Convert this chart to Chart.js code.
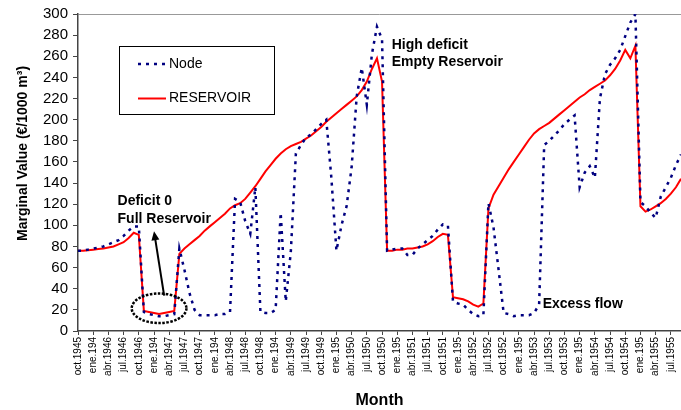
<!DOCTYPE html>
<html>
<head>
<meta charset="utf-8">
<script src="https://cdn.jsdelivr.net/npm/chart.js@4.4.1/dist/chart.umd.min.js"></script>
<style>
  body { margin: 0; background: #fff; }
  canvas { display: block; }
</style>
</head>
<body>
<canvas id="chart" width="681" height="410"></canvas>
<script>
// labels shown under the axis, one every 3 months (Excel cut the "ene" ones short)
var tickLabels = ['oct.1945', 'ene.194', 'abr.1946', 'jul.1946', 'oct.1946', 'ene.194', 'abr.1947', 'jul.1947',
  'oct.1947', 'ene.194', 'abr.1948', 'jul.1948', 'oct.1948', 'ene.194', 'abr.1949', 'jul.1949',
  'oct.1949', 'ene.195', 'abr.1950', 'jul.1950', 'oct.1950', 'ene.195', 'abr.1951', 'jul.1951',
  'oct.1951', 'ene.195', 'abr.1952', 'jul.1952', 'oct.1952', 'ene.195', 'abr.1953', 'jul.1953',
  'oct.1953', 'ene.195', 'abr.1954', 'jul.1954', 'oct.1954', 'ene.195', 'abr.1955', 'jul.1955'];

var monthNames = ['oct', 'nov', 'dic', 'ene', 'feb', 'mar', 'abr', 'may', 'jun', 'jul', 'ago', 'sep'];

// monthly categories oct 1945 .. sep 1955
var months = [];
for (var yr = 1945; yr < 1955; yr++) {
  for (var m = 0; m < 12; m++) {
    months.push(monthNames[m] + '.' + (m < 3 ? yr : yr + 1));
  }
}

var nodeValues = [
  76, 76, 77, 78, 79, 80, 82, 84, 86, 90,
  95, 99, 99, 18, 16, 15, 14, 14, 15, 16,
  78, 58, 36, 20, 15, 15, 15, 15, 16, 16,
  18, 125, 122, 104, 92, 136, 18, 17, 17, 20,
  112, 28, 75, 168, 176, 183, 186, 191, 196, 200,
  145, 76, 100, 118, 155, 222, 249, 214, 262, 288,
  276, 76, 77, 78, 78, 72, 72, 78, 82, 86,
  90, 96, 101, 100, 28, 26, 25, 20, 16, 14,
  15, 121, 98, 58, 17, 16, 14, 15, 15, 15,
  17, 25, 176, 180, 185, 190, 196, 200, 204, 136,
  150, 156, 145, 220, 243, 252, 258, 266, 279, 292,
  300, 122, 118, 112, 107, 127, 136, 145, 157, 167
];

var reservoirValues = [
  76, 76, 76.5, 77, 77.5, 78, 79, 80, 82, 84,
  88, 93, 91, 19, 18, 17, 16, 17, 18, 19,
  73, 78, 82, 86, 90, 95, 99, 103, 107, 111,
  116, 119, 121, 125, 131, 137, 144, 151, 157, 163,
  168, 172, 175, 177, 179, 182, 185, 189, 193, 198,
  202, 206, 210, 214, 218, 222, 228, 236, 248, 258,
  236, 76, 76, 77, 77, 78, 78, 79, 80, 82,
  85, 89, 92, 91, 32, 31, 30, 28, 25, 23,
  26, 116, 129, 137, 145, 153, 160, 167, 174, 181,
  187, 191, 194, 197, 201, 205, 209, 213, 217, 221,
  224, 228, 231, 234, 237, 242, 248, 256, 266, 258,
  270, 118, 113, 115, 118, 121, 125, 130, 136, 144
];

var fontFamily = "'Liberation Sans', Arial, sans-serif";
var yTitle = 'Marginal Value (€/1000 m³)';

// annotations in data units (month index, value)
var texts = [
  { text: 'Deficit 0', x: 7.8, y: 123 },
  { text: 'Full Reservoir', x: 7.8, y: 106 },
  { text: 'High deficit', x: 61.9, y: 270.5 },
  { text: 'Empty Reservoir', x: 61.9, y: 254 },
  { text: 'Excess flow', x: 91.7, y: 25 }
];
var circle = { x: 16, y: 21.5, rx: 5.4, ry: 14 };
var arrow = { from: [17, 33.5], to: [15, 94.5] };

var notesPlugin = {
  id: 'notes',
  afterDatasetsDraw: function(chart) {
    var ctx = chart.ctx;
    var xs = chart.scales.x, ys = chart.scales.y;
    ctx.save();

    // dotted ellipse round the full-reservoir months
    var cx = xs.getPixelForValue(circle.x), cy = ys.getPixelForValue(circle.y);
    var rx = xs.getPixelForValue(circle.x + circle.rx) - cx;
    var ry = cy - ys.getPixelForValue(circle.y + circle.ry);
    ctx.beginPath();
    ctx.setLineDash([2.5, 1.5]);
    ctx.lineWidth = 2.5;
    ctx.strokeStyle = '#000';
    ctx.ellipse(cx, cy, rx, ry, 0, 0, Math.PI * 2);
    ctx.stroke();
    ctx.setLineDash([]);

    // arrow
    var x1 = xs.getPixelForValue(arrow.from[0]), y1 = ys.getPixelForValue(arrow.from[1]);
    var x2 = xs.getPixelForValue(arrow.to[0]), y2 = ys.getPixelForValue(arrow.to[1]);
    var ang = Math.atan2(y2 - y1, x2 - x1);
    ctx.lineWidth = 2;
    ctx.beginPath();
    ctx.moveTo(x1, y1);
    ctx.lineTo(x2 - 7 * Math.cos(ang), y2 - 7 * Math.sin(ang));
    ctx.stroke();
    ctx.beginPath();
    ctx.moveTo(x2, y2);
    ctx.lineTo(x2 - 9 * Math.cos(ang) + 4 * Math.sin(ang), y2 - 9 * Math.sin(ang) - 4 * Math.cos(ang));
    ctx.lineTo(x2 - 9 * Math.cos(ang) - 4 * Math.sin(ang), y2 - 9 * Math.sin(ang) + 4 * Math.cos(ang));
    ctx.closePath();
    ctx.fillStyle = '#000';
    ctx.fill();

    ctx.font = 'bold 14px ' + fontFamily;
    ctx.textBaseline = 'middle';
    ctx.textAlign = 'left';
    texts.forEach(function(t) {
      ctx.fillText(t.text, xs.getPixelForValue(t.x), ys.getPixelForValue(t.y));
    });
    ctx.restore();
  },
  afterDraw: function(chart) {
    var ctx = chart.ctx, area = chart.chartArea;
    ctx.save();

    // y axis title, sits a bit above the middle of the axis in the original
    ctx.translate(23, area.top + (area.bottom - area.top) * 0.44);
    ctx.rotate(-Math.PI / 2);
    ctx.font = 'bold 14px ' + fontFamily;
    ctx.fillStyle = '#000';
    ctx.textAlign = 'center';
    ctx.textBaseline = 'middle';
    ctx.fillText(yTitle, 0, 0);
    ctx.setTransform(1, 0, 0, 1, 0, 0);

    // legend box inside the plot, like the Excel one
    var bx = area.left + 41, by = area.top + 32;
    ctx.fillStyle = '#fff';
    ctx.fillRect(bx, by, 156, 69);
    ctx.strokeStyle = '#000';
    ctx.lineWidth = 1;
    ctx.strokeRect(bx + 0.5, by + 0.5, 155, 68);
    ctx.font = '14px ' + fontFamily;
    ctx.textAlign = 'left';
    ctx.textBaseline = 'middle';
    chart.data.datasets.forEach(function(ds, k) {
      var ly = by + 18 + k * 34.5;
      ctx.beginPath();
      ctx.strokeStyle = ds.borderColor;
      ctx.lineWidth = ds.borderWidth;
      ctx.setLineDash(ds.borderDash || []);
      ctx.moveTo(bx + 19, ly);
      ctx.lineTo(bx + 47, ly);
      ctx.stroke();
      ctx.setLineDash([]);
      ctx.fillStyle = '#000';
      ctx.fillText(ds.label, bx + 50, ly);
    });
    ctx.restore();
  }
};

var chart = new Chart(document.getElementById('chart').getContext('2d'), {
  type: 'line',
  data: {
    labels: months,
    datasets: [{
      label: 'Node',
      data: nodeValues,
      borderColor: '#000080',
      borderWidth: 2.5,
      borderDash: [3, 5],
      pointRadius: 0,
      tension: 0,
      fill: false
    }, {
      label: 'RESERVOIR',
      data: reservoirValues,
      borderColor: '#ff0000',
      borderWidth: 2,
      pointRadius: 0,
      tension: 0,
      fill: false
    }]
  },
  options: {
    responsive: false,
    animation: false,
    devicePixelRatio: 1,
    layout: { padding: { top: 10, right: 0, left: 0, bottom: 0 } },
    plugins: {
      legend: { display: false },
      tooltip: { enabled: false }
    },
    scales: {
      x: {
        offset: false,
        grid: { drawOnChartArea: false, tickLength: 4, tickColor: '#444' },
        border: { color: '#444', width: 1.5 },
        ticks: {
          autoSkip: false,
          minRotation: 90,
          maxRotation: 90,
          padding: 2,
          color: '#000',
          font: { family: fontFamily, size: 10 },
          callback: function(val, i) {
            return i % 3 === 0 ? tickLabels[i / 3] : null;
          }
        },
        title: {
          display: true,
          text: 'Month',
          color: '#000',
          font: { family: fontFamily, size: 16, weight: 'bold' },
          padding: { top: 0, bottom: 0 }
        },
        afterFit: function(scale) {
          scale.height = 79;
          scale.paddingLeft = 0;
          scale.paddingRight = 0;
        }
      },
      y: {
        min: 0,
        max: 300,
        ticks: {
          stepSize: 20,
          padding: 5,
          color: '#000',
          font: { family: fontFamily, size: 15 }
        },
        grid: {
          tickLength: 5,
          tickColor: '#444',
          color: function(c) {
            return c.tick && c.tick.value === 300 ? '#999' : 'rgba(0,0,0,0)';
          }
        },
        border: { color: '#444', width: 1.5 },
        afterFit: function(scale) {
          scale.width = 78;
        }
      }
    }
  },
  plugins: [notesPlugin]
});
</script>
</body>
</html>
